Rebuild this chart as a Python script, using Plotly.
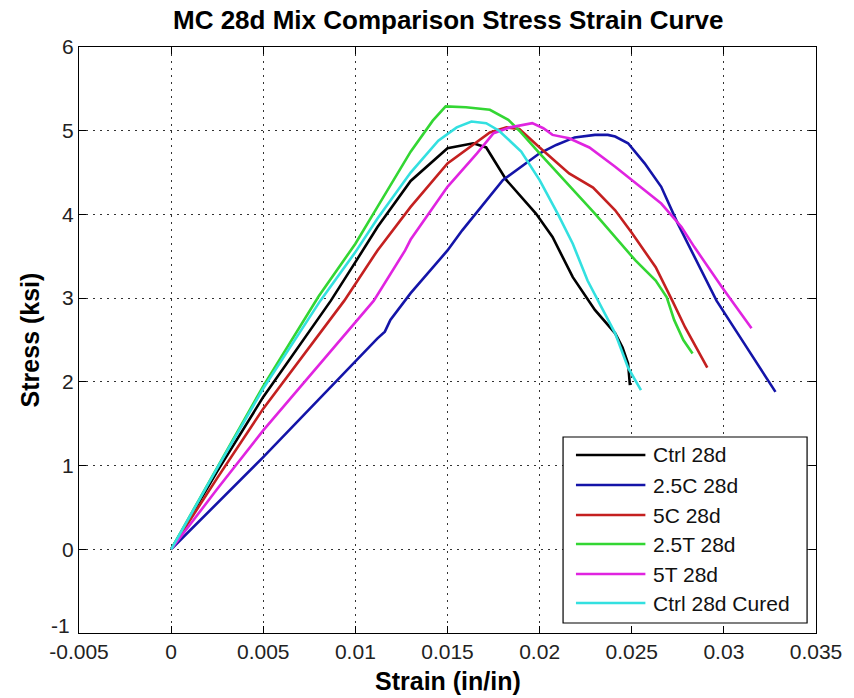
import plotly.graph_objects as go

# ---- data ----
ctrl_x = [0, 0.0025, 0.0050, 0.00867, 0.0100, 0.0112, 0.0130, 0.0150, 0.0164, 0.0171, 0.0182, 0.0198, 0.0207, 0.0218, 0.0230, 0.0241, 0.0245, 0.0248, 0.0249]
ctrl_y = [0, 0.93, 1.82, 2.97, 3.43, 3.85, 4.40, 4.79, 4.85, 4.80, 4.41, 4.01, 3.73, 3.25, 2.86, 2.58, 2.41, 2.22, 1.96]

c25_x = [0, 0.0025, 0.0050, 0.0112, 0.0116, 0.0119, 0.0130, 0.0150, 0.0158, 0.0180, 0.0200, 0.0209, 0.0219, 0.0230, 0.0237, 0.0241, 0.0248, 0.0257, 0.0266, 0.0275, 0.0284, 0.0296, 0.0311, 0.0328]
c25_y = [0, 0.55, 1.10, 2.52, 2.60, 2.74, 3.06, 3.57, 3.81, 4.41, 4.73, 4.83, 4.92, 4.95, 4.95, 4.93, 4.85, 4.61, 4.33, 3.89, 3.49, 2.97, 2.46, 1.88]

c5_x = [0, 0.0025, 0.0050, 0.0094, 0.0112, 0.0130, 0.0150, 0.0165, 0.0173, 0.0182, 0.0189, 0.0200, 0.0216, 0.0229, 0.0241, 0.0250, 0.0263, 0.0272, 0.0279, 0.0291]
c5_y = [0, 0.85, 1.68, 2.97, 3.57, 4.09, 4.61, 4.85, 4.98, 5.04, 5.02, 4.80, 4.49, 4.32, 4.05, 3.78, 3.37, 2.97, 2.65, 2.17]

t25_x = [0, 0.0025, 0.0050, 0.0080, 0.0100, 0.0112, 0.0130, 0.0142, 0.0149, 0.0160, 0.0173, 0.0183, 0.0189, 0.0200, 0.0215, 0.0230, 0.0252, 0.0263, 0.0269, 0.0273, 0.0278, 0.0283]
t25_y = [0, 0.98, 1.95, 3.02, 3.65, 4.09, 4.75, 5.12, 5.29, 5.28, 5.25, 5.13, 5.00, 4.73, 4.37, 4.01, 3.45, 3.21, 3.01, 2.74, 2.50, 2.34]

t5_x = [0, 0.0025, 0.0050, 0.0110, 0.0127, 0.0130, 0.0150, 0.0166, 0.0175, 0.0184, 0.0196, 0.0202, 0.0207, 0.0216, 0.0227, 0.0241, 0.0257, 0.0266, 0.0277, 0.0284, 0.0299, 0.0315]
t5_y = [0, 0.72, 1.42, 2.97, 3.57, 3.70, 4.33, 4.73, 4.97, 5.04, 5.09, 5.03, 4.95, 4.91, 4.80, 4.57, 4.29, 4.13, 3.85, 3.61, 3.13, 2.64]

cured_x = [0, 0.0025, 0.0050, 0.0081, 0.0100, 0.0112, 0.0130, 0.0145, 0.0155, 0.0163, 0.0171, 0.0178, 0.0190, 0.0200, 0.0210, 0.0218, 0.0226, 0.0241, 0.0248, 0.0255]
cured_y = [0, 0.97, 1.92, 2.97, 3.55, 3.95, 4.50, 4.88, 5.04, 5.11, 5.09, 5.00, 4.75, 4.41, 4.00, 3.65, 3.21, 2.58, 2.17, 1.90]

names = ["Ctrl 28d", "2.5C 28d", "5C 28d", "2.5T 28d", "5T 28d", "Ctrl 28d Cured"]
colors = ["#000000", "#1414a8", "#c42020", "#33d633", "#e024e0", "#33e0e0"]
series = [(ctrl_x, ctrl_y), (c25_x, c25_y), (c5_x, c5_y), (t25_x, t25_y), (t5_x, t5_y), (cured_x, cured_y)]

x_ticks = [-0.005, 0, 0.005, 0.01, 0.015, 0.02, 0.025, 0.03, 0.035]
x_tick_text = ["-0.005", "0", "0.005", "0.01", "0.015", "0.02", "0.025", "0.03", "0.035"]
y_ticks = [-1, 0, 1, 2, 3, 4, 5, 6]
y_tick_text = ["", "0", "1", "2", "3", "4", "5", "6"]

# ---- layout geometry (pixels) ----
W, H = 854, 698
L, R, T, B = 79, 822, 47, 633

def px(xp):
    return (xp - L) / (R - L)

def py(yp):
    return (B - yp) / (B - T)

FONT = "Liberation Sans, Arial, sans-serif"

fig = go.Figure()
for (xs, ys), nm, col in zip(series, names, colors):
    fig.add_trace(go.Scatter(x=xs, y=ys, mode="lines", name=nm,
                             line=dict(color=col, width=2.6), showlegend=False))

tick_font = dict(family=FONT, size=21, color="#222222")
axis_common = dict(showline=True, linecolor="black", linewidth=1, mirror="ticks",
                   ticks="inside", ticklen=7, tickcolor="black",
                   showgrid=True, gridcolor="#333333", griddash="2px,5px", gridwidth=1,
                   zeroline=False, tickfont=tick_font)

fig.update_layout(
    width=W, height=H,
    margin=dict(l=L, r=W - R, t=T, b=H - B),
    paper_bgcolor="white", plot_bgcolor="white",
    xaxis=dict(range=[-0.005, 0.035], tickvals=x_ticks, ticktext=x_tick_text, **axis_common),
    yaxis=dict(range=[-1, 6], tickvals=y_ticks, ticktext=y_tick_text, **axis_common),
    showlegend=False,
)

# the "-1" y tick label sits slightly raised, as in the reference
fig.add_annotation(text=x_tick_text[0][:1] + "1", xref="paper", yref="y", x=px(72), y=y_ticks[0],
                   xanchor="right", yanchor="bottom", yshift=-6, showarrow=False, font=tick_font)

# title and axis labels
bold = dict(family=FONT, size=25, color="black")
fig.add_annotation(text="<b>MC 28d Mix Comparison Stress Strain Curve</b>", xref="paper", yref="paper",
                   x=0.5, y=py(20), xanchor="center", yanchor="middle", showarrow=False,
                   font=dict(family=FONT, size=26, color="black"))
fig.add_annotation(text="<b>Strain (in/in)</b>", xref="paper", yref="paper",
                   x=0.5, y=py(681), xanchor="center", yanchor="middle", showarrow=False, font=bold)
fig.add_annotation(text="<b>Stress (ksi)</b>", xref="paper", yref="paper",
                   x=px(30), y=0.5, xanchor="center", yanchor="middle", textangle=-90,
                   showarrow=False, font=bold)

# custom legend
fig.add_shape(type="rect", xref="paper", yref="paper", x0=px(567), x1=px(813), y0=py(623), y1=py(437),
              line=dict(color="black", width=1.2), fillcolor="white", layer="above")
entry_y = [455, 485, 515, 544, 574, 603]
for nm, col, ey in zip(names, colors, entry_y):
    fig.add_shape(type="line", xref="paper", yref="paper", x0=px(580), x1=px(650), y0=py(ey), y1=py(ey),
                  line=dict(color=col, width=2.6), layer="above")
    fig.add_annotation(text=nm, xref="paper", yref="paper", x=px(656), y=py(ey),
                       xanchor="left", yanchor="middle", showarrow=False,
                       font=dict(family=FONT, size=21, color="#111111"))

fig.write_html("out.html")
